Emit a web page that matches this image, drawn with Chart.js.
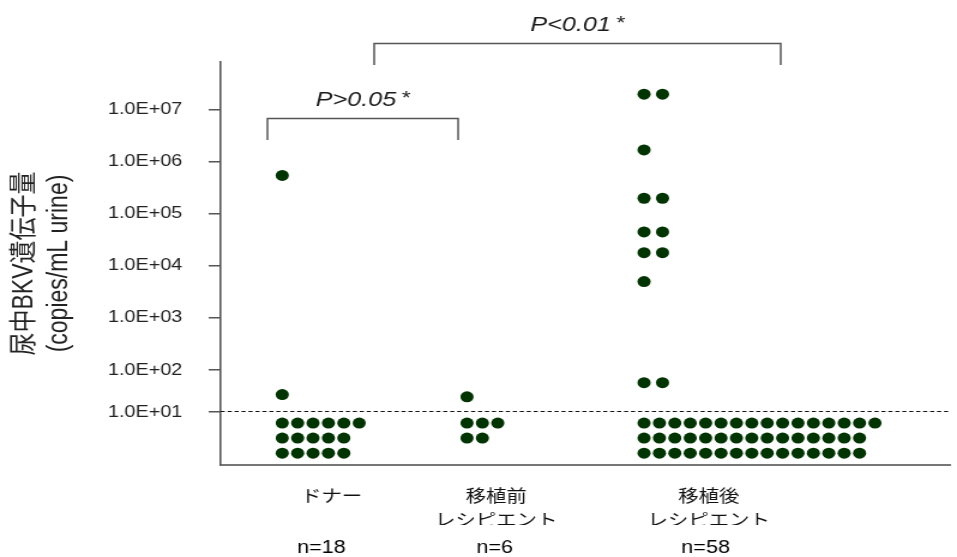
<!DOCTYPE html>
<html><head><meta charset="utf-8">
<script src="https://cdn.jsdelivr.net/npm/chart.js@4.4.0/dist/chart.umd.min.js"></script>
<style>
html,body{margin:0;padding:0;background:#fff;overflow:hidden}
#wrap{width:798px;height:557px;transform:scaleX(1.19925);transform-origin:0 0}
</style></head><body>
<div id="wrap"><canvas id="c" width="798" height="557"></canvas></div>
<script>
// ---- data ----
const groupNames = [['ドナー', ''], ['移植前', 'レシピエント'], ['移植後', 'レシピエント']];
const groupCounts = ['n=18', 'n=6', 'n=58'];
// quantified samples (copies/mL urine)
const donorDetected = [550000, 26];
const preDetected = [23];
const postDetected = [2e7, 2e7, 1.7e6, 2e5, 2e5, 4.5e4, 4.5e4, 1.8e4, 1.8e4, 5000, 50, 50];
// samples below detection limit, as drawn per row
const donorBelowRows = [6, 5, 5];
const preBelowRows = [3, 2];
const postBelowRows = [16, 15, 15];
const detectionLimit = 10;
const yTickValues = [1e1, 1e2, 1e3, 1e4, 1e5, 1e6, 1e7];
const yTickLabels = ['1.0E+01', '1.0E+02', '1.0E+03', '1.0E+04', '1.0E+05', '1.0E+06', '1.0E+07'];
const yTitle = ['尿中BKV遺伝子量', '(copies/mL urine)'];
const pLabels = ['P>0.05', 'P<0.01'];
const pMark = '*';

// ---- layout ----
const groupBase = [4, 16, 27.5];       // x-units of first dot column
const namePos = [7.2, 17.9, 31.7];
const countPos = [6.55, 17.8, 31.5];
const COL = 1, PAIR = 1.2, ROW = 0.29, BELOW_TOP = 0.21;
const LOW_DECADE = 0.81; // axis drawn compressed between 10 and 100

function toAxis(v) {
  const L = Math.log10(v);
  return L >= 2 ? L : 2 - (2 - L) * LOW_DECADE;
}
function detectedPts(vals, base) {
  const seen = {};
  return vals.map(v => {
    const k = seen[v] || 0; seen[v] = k + 1;
    return {x: base + k * PAIR, y: toAxis(v)};
  });
}
function belowPts(rows, base) {
  const pts = [];
  const top = toAxis(detectionLimit) - BELOW_TOP;
  rows.forEach((n, r) => { for (let c = 0; c < n; c++) pts.push({x: base + c * COL, y: top - r * ROW}); });
  return pts;
}
const DOT = '#023302';
const dsBase = {pointRadius: 5.5, pointBackgroundColor: DOT, pointBorderWidth: 0, showLine: false};
const datasets = [
  {...dsBase, data: detectedPts(donorDetected, groupBase[0]).concat(belowPts(donorBelowRows, groupBase[0]))},
  {...dsBase, data: detectedPts(preDetected, groupBase[1]).concat(belowPts(preBelowRows, groupBase[1]))},
  {...dsBase, data: detectedPts(postDetected, groupBase[2]).concat(belowPts(postBelowRows, groupBase[2]))}
];

const FONT = '"Liberation Sans", Arial, "Noto Sans CJK JP", sans-serif';

const overlay = {
  id: 'overlay',
  beforeDatasetsDraw(chart) {
    const {ctx, chartArea: a, scales: {y}} = chart;
    const py = Math.round(y.getPixelForValue(toAxis(detectionLimit))) - 0.5;
    ctx.save();
    ctx.strokeStyle = '#111'; ctx.lineWidth = 1; ctx.setLineDash([3.4, 2.4]);
    ctx.beginPath(); ctx.moveTo(a.left, py); ctx.lineTo(a.right, py); ctx.stroke();
    ctx.restore();
  },
  afterDraw(chart) {
    const {ctx, chartArea: a, scales: {x}} = chart;
    const brackets = [
      {x0: 3.05, x1: 15.45, top: 56, bot: 78, ty: 38, label: pLabels[0]},
      {x0: 9.95, x1: 36.35, top: -19, bot: 3, ty: -37, label: pLabels[1]}
    ];
    ctx.save();
    brackets.forEach(b => {
      const l = Math.round(x.getPixelForValue(b.x0)), r = Math.round(x.getPixelForValue(b.x1));
      const t = a.top + b.top + 0.5, bt = a.top + b.bot;
      ctx.strokeStyle = '#555'; ctx.lineWidth = 1.5;
      ctx.beginPath(); ctx.moveTo(l, bt); ctx.lineTo(l, t); ctx.lineTo(r, t); ctx.lineTo(r, bt); ctx.stroke();
      ctx.fillStyle = '#1a1a1a'; ctx.textBaseline = 'middle'; ctx.textAlign = 'left';
      ctx.font = 'italic 21px ' + FONT;
      const w1 = ctx.measureText(b.label).width;
      ctx.font = 'italic 19px ' + FONT;
      const w2 = ctx.measureText(pMark).width;
      const gap = 4;
      const x0 = (l + r) / 2 - (w1 + gap + w2) / 2;
      const ty = a.top + b.ty;
      ctx.font = 'italic 21px ' + FONT;
      ctx.fillText(b.label, x0, ty);
      ctx.font = 'italic 19px ' + FONT;
      ctx.fillText(pMark, x0 + w1 + gap, ty - 1);
    });
    ctx.restore();
  }
};

new Chart(document.getElementById('c'), {
  type: 'scatter',
  data: {datasets},
  plugins: [overlay],
  options: {
    responsive: false, animation: false, events: [],
    layout: {padding: {top: 62, right: 2, left: 0, bottom: 0}},
    plugins: {legend: {display: false}, tooltip: {enabled: false}},
    scales: {
      x: {
        type: 'linear', position: 'bottom', weight: 0, min: 0, max: 47.4,
        grid: {display: false, drawTicks: false},
        border: {display: true, color: '#777', width: 2},
        afterBuildTicks: s => { s.ticks = namePos.map(v => ({value: v})); },
        afterFit: s => { s.height = 60; },
        ticks: {autoSkip: false, maxRotation: 0, padding: 20, color: '#111',
                font: {family: FONT, size: 17, lineHeight: 1.41},
                callback: (v, i) => groupNames[i]}
      },
      xn: {
        type: 'linear', position: 'bottom', weight: 1, min: 0, max: 47.4,
        grid: {display: false, drawTicks: false},
        border: {display: false},
        afterBuildTicks: s => { s.ticks = countPos.map(v => ({value: v})); },
        afterFit: s => { s.height = 32; },
        ticks: {autoSkip: false, maxRotation: 0, padding: 12, color: '#000',
                font: {family: FONT, size: 18, lineHeight: 1.2},
                callback: (v, i) => groupCounts[i]}
      },
      y: {
        type: 'linear', min: 0.173, max: 7.92,
        grid: {display: true, drawOnChartArea: false, drawTicks: true, tickLength: 10, color: '#555', lineWidth: 1.5},
        border: {display: true, color: '#555', width: 1.6},
        afterBuildTicks: s => { s.ticks = yTickValues.map(v => ({value: toAxis(v)})); },
        afterFit: s => { s.width = 184; },
        ticks: {padding: 22, color: '#222', font: {family: FONT, size: 16.5},
                callback: (v, i) => yTickLabels[i]},
        title: {display: true, text: yTitle, color: '#222',
                font: {family: FONT, size: 23, lineHeight: 1.27},
                padding: {top: 6.2, bottom: 0}}
      }
    }
  }
});
</script>
</body></html>
